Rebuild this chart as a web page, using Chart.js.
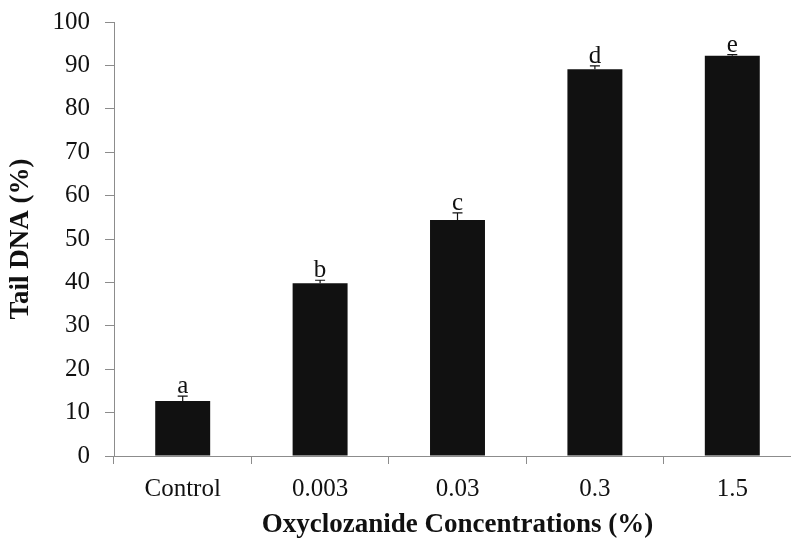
<!DOCTYPE html>
<html>
<head>
<meta charset="utf-8">
<script src="https://cdn.jsdelivr.net/npm/chart.js@4"></script>
<style>
  html, body { margin: 0; padding: 0; background: #fff; overflow: hidden; }
  #wrap { width: 810px; height: 541px; }
</style>
</head>
<body>
<div id="wrap"><canvas id="tailChart" width="810" height="541"></canvas></div>
<script>
// chart data
const categories = ['Control', '0.003', '0.03', '0.3', '1.5'];
const tailDNA = [12.7, 39.8, 54.4, 89.1, 92.2];
const errors = [1.1, 0.7, 1.6, 0.8, 0.3];
const letters = ['a', 'b', 'c', 'd', 'e'];
const yTicks = [0, 10, 20, 30, 40, 50, 60, 70, 80, 90, 100];

const serif = '"Liberation Serif", "Times New Roman", serif';
const axisGrey = '#8c8c8c';

// draws the error caps and the letter above each bar
const errorBarPlugin = {
    id: 'errorBars',
    afterDatasetsDraw(chart) {
        const ctx = chart.ctx;
        const yScale = chart.scales.y;
        const meta = chart.getDatasetMeta(0);
        ctx.save();
        meta.data.forEach((bar, i) => {
            const yTop = yScale.getPixelForValue(tailDNA[i] + errors[i]);
            const yBase = yScale.getPixelForValue(tailDNA[i]);
            ctx.strokeStyle = '#111';
            ctx.lineWidth = 1.2;
            ctx.beginPath();
            ctx.moveTo(bar.x, yBase);
            ctx.lineTo(bar.x, yTop);
            ctx.moveTo(bar.x - 5, yTop);
            ctx.lineTo(bar.x + 5, yTop);
            ctx.stroke();

            ctx.fillStyle = '#111';
            ctx.font = '25px ' + serif;
            ctx.textAlign = 'center';
            ctx.textBaseline = 'alphabetic';
            ctx.fillText(letters[i], bar.x, yTop - 3);
        });
        ctx.restore();
    }
};

new Chart(document.getElementById('tailChart').getContext('2d'), {
    type: 'bar',
    data: {
        labels: categories,
        datasets: [{
            data: tailDNA,
            backgroundColor: '#111111',
            borderWidth: 0,
            barPercentage: 0.4,
            categoryPercentage: 1.0
        }]
    },
    options: {
        responsive: false,
        animation: false,
        layout: { padding: { top: 22, right: 9, left: 0, bottom: 0 } },
        plugins: { legend: { display: false }, tooltip: { enabled: false } },
        scales: {
            x: {
                grid: { drawOnChartArea: false, offset: true, tickLength: 8, color: axisGrey },
                border: { color: axisGrey, width: 1 },
                ticks: { color: '#111', font: { family: serif, size: 25 }, padding: 10 },
                title: {
                    display: true,
                    text: 'Oxyclozanide Concentrations (%)',
                    color: '#111',
                    font: { family: serif, size: 27, weight: 'bold' },
                    padding: { top: 0, bottom: 0 }
                },
                afterFit(scale) {
                    scale.height = 85;
                    scale.paddingLeft = 0;
                    scale.paddingRight = 0;
                }
            },
            y: {
                min: 0,
                max: 100,
                afterBuildTicks(scale) { scale.ticks = yTicks.map(v => ({ value: v })); },
                grid: { drawOnChartArea: false, tickLength: 9, color: axisGrey },
                border: { color: axisGrey, width: 1 },
                ticks: { color: '#111', font: { family: serif, size: 25 }, padding: 15 },
                title: {
                    display: true,
                    text: 'Tail DNA (%)',
                    color: '#111',
                    font: { family: serif, size: 27, weight: 'bold' },
                    padding: { top: 5, bottom: 0 }
                },
                afterFit(scale) {
                    scale.width = 114;
                    scale.paddingTop = 0;
                    scale.paddingBottom = 0;
                }
            }
        }
    },
    plugins: [errorBarPlugin]
});
</script>
</body>
</html>
